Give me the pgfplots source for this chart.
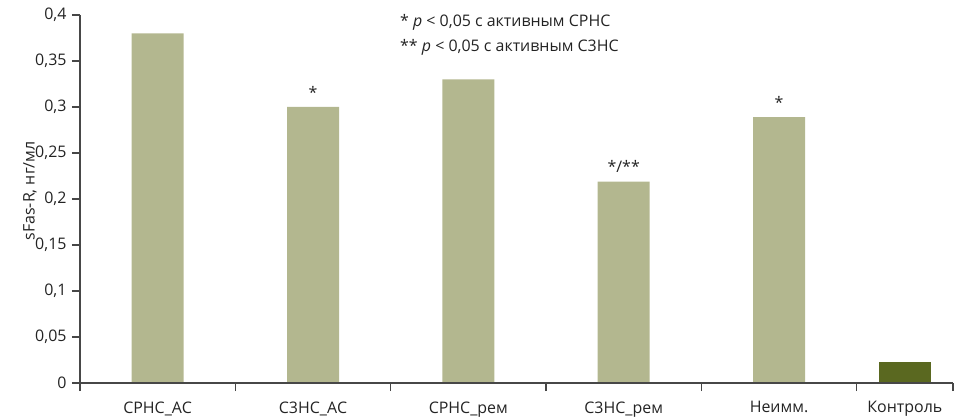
\documentclass[border=0pt]{standalone}
\usepackage{pgfplots}
\pgfplotsset{compat=1.18}
\usepackage{fontspec}
\setmainfont{Open Sans}
\definecolor{barcol}{RGB}{179,183,143}
\definecolor{ctrlcol}{RGB}{90,104,32}
\definecolor{axcol}{RGB}{70,70,70}
\definecolor{txtcol}{RGB}{35,35,35}
\begin{document}
\fontsize{16}{19}\selectfont
\begin{tikzpicture}
\useasboundingbox (-80bp,-35bp) rectangle (877bp,383bp);
\begin{axis}[
  at={(0,0)}, anchor=south west,
  scale only axis, width=873bp, height=368bp,
  xmin=-0.5, xmax=5.12, ymin=0, ymax=0.4,
  axis lines=left,
  axis line style={-, color=black!72, line width=1.3bp},
  every tick/.style={axcol, line width=1.2bp},
  tick align=outside,
  major tick length=8bp,
  scaled ticks=false,
  xtick={-0.5,0.5,1.5,2.5,3.5,4.5,5.12},
  x tick label as interval,
  xticklabels={СРНС\_АС, С3НС\_АС, СРНС\_рем, С3НС\_рем, Неимм., Контроль},
  ytick={0,0.05,0.1,0.15,0.2,0.25,0.3,0.35,0.4},
  yticklabels={0,{0,05},{0,1},{0,15},{0,2},{0,25},{0,3},{0,35},{0,4}},
  tick label style={font=\fontsize{16}{19}\selectfont, text=txtcol},
  xticklabel style={yshift=-5bp},
  ylabel={sFas-R, нг/мл},
  ylabel style={at={(axis description cs:-0.0573,0.522)}, anchor=center, font=\fontsize{16}{19}\selectfont, text=txtcol},
  clip=false,
]
\addplot[ybar, bar shift=0pt, bar width=52bp, fill=barcol, draw=none]
  coordinates {(0,0.38) (1,0.30) (2,0.33) (3,0.219) (4,0.289)};
\addplot[ybar, bar shift=0pt, bar width=52bp, fill=ctrlcol, draw=none]
  coordinates {(4.81,0.023)};
\node[text=txtcol, anchor=south, inner sep=6bp] at (axis cs:1,0.303) {*};
\node[text=txtcol, anchor=south, inner sep=6bp] at (axis cs:3,0.222) {*/**};
\node[text=txtcol, anchor=south, inner sep=6bp] at (axis cs:4,0.292) {*};
\node[text=txtcol, anchor=west, inner sep=0pt] at (axis cs:1.56,0.392) {* \textit{p} < 0,05 с активным СРНС};
\node[text=txtcol, anchor=west, inner sep=0pt] at (axis cs:1.56,0.365) {** \textit{p} < 0,05 с активным С3НС};
\end{axis}
\draw[black!72, line width=1.3bp] (0bp,368bp) -- (0bp,0bp) -- (873bp,0bp);
\end{tikzpicture}
\end{document}
